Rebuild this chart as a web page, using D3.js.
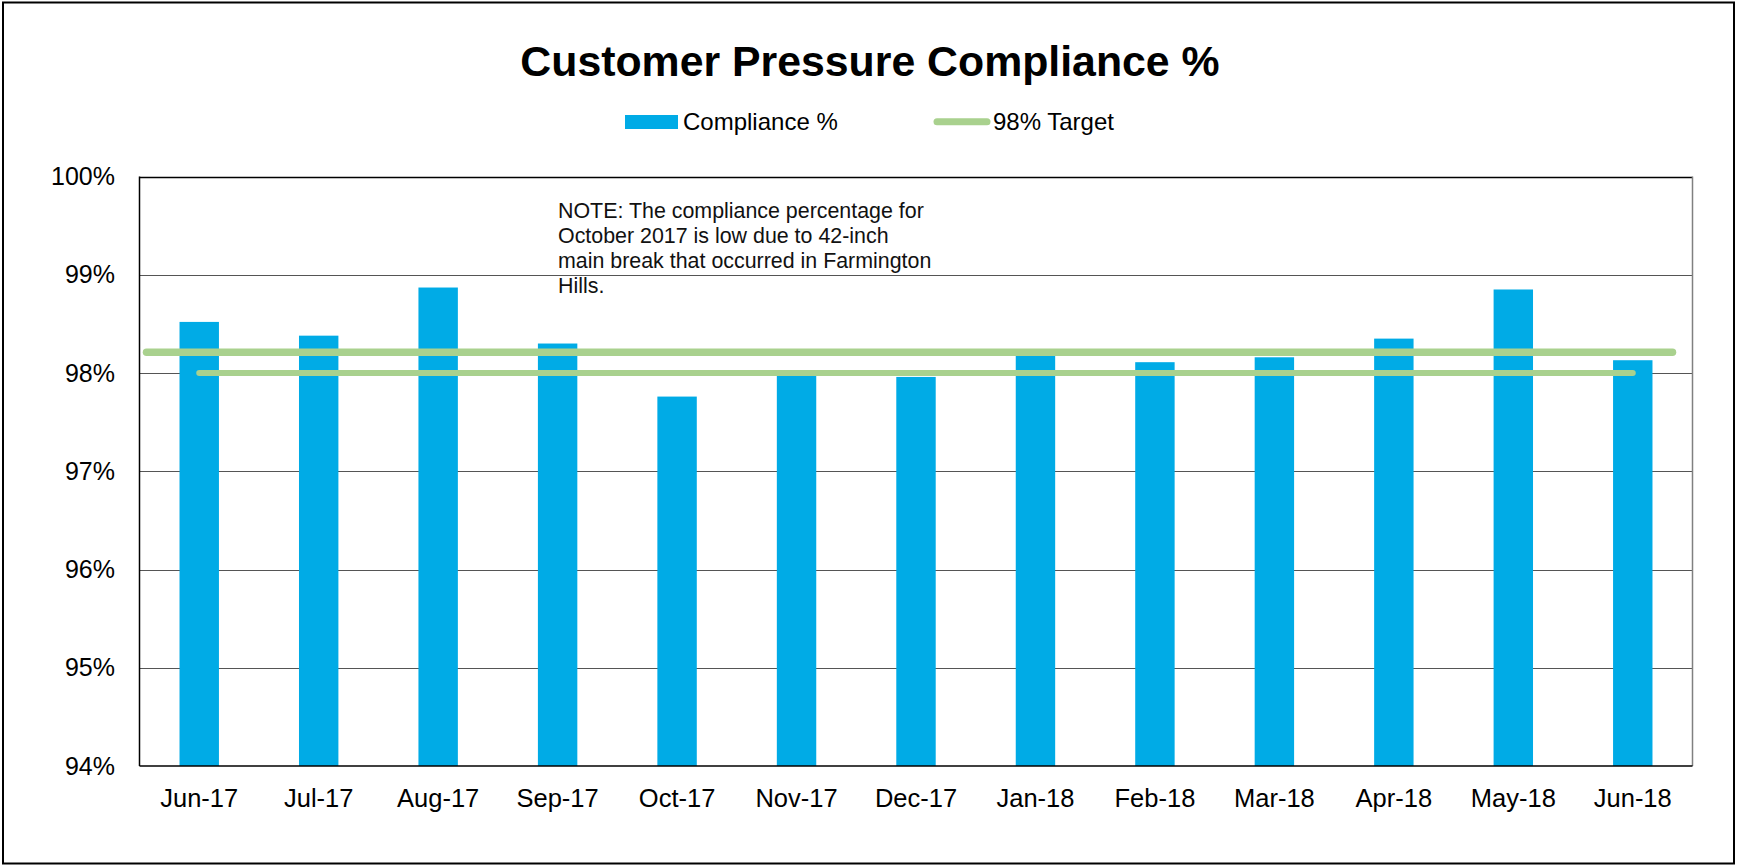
<!DOCTYPE html>
<html>
<head>
<meta charset="utf-8">
<script src="https://cdn.jsdelivr.net/npm/d3@7"></script>
<style>
  html, body { margin: 0; padding: 0; background: #fff; }
  svg { display: block; font-family: "Liberation Sans", Arial, sans-serif; }
</style>
</head>
<body>
<svg id="chart" width="1739" height="865"></svg>
<script>
// ---- data ----
const categories = ["Jun-17","Jul-17","Aug-17","Sep-17","Oct-17","Nov-17","Dec-17","Jan-18","Feb-18","Mar-18","Apr-18","May-18","Jun-18"];
const compliance = [98.52, 98.38, 98.87, 98.30, 97.76, 98.03, 97.96, 98.19, 98.11, 98.16, 98.35, 98.85, 98.13];
const target = [98, 98, 98, 98, 98, 98, 98, 98, 98, 98, 98, 98, 98];
const drawnTargetLine = 98.21;
const yTicks = [94, 95, 96, 97, 98, 99, 100];
const titleText = "Customer Pressure Compliance %";
const legendLabels = ["Compliance %", "98% Target"];
const noteLines = [
  "NOTE: The compliance percentage for",
  "October 2017 is low due to 42-inch",
  "main break that occurred in Farmington",
  "Hills."
];

// ---- layout ----
const W = 1739, H = 865;
const plot = { left: 139.5, right: 1692.5, top: 176.5, bottom: 766 };
const barColor = "#00ABE6";
const lineColor = "#A9D18E";

const svg = d3.select("#chart");

// outer border
svg.append("rect").attr("x", 3).attr("y", 2.5).attr("width", 1731).attr("height", 861)
  .attr("fill", "#fff").attr("stroke", "#000").attr("stroke-width", 2);

const x = d3.scaleBand().domain(categories).range([plot.left, plot.right])
  .paddingInner(0.67).paddingOuter(0.335);
const y = d3.scaleLinear().domain([94, 100]).range([plot.bottom, plot.top]);

// gridlines
svg.append("g").selectAll("line").data(yTicks.filter(d => d > 94)).join("line")
  .attr("x1", plot.left).attr("x2", plot.right)
  .attr("y1", d => Math.round(y(d)) + 0.5).attr("y2", d => Math.round(y(d)) + 0.5)
  .attr("stroke", d => d === 100 ? "#000" : "#555").attr("stroke-width", d => d === 100 ? 1.5 : 1);

// right border of plot
svg.append("line").attr("x1", plot.right).attr("x2", plot.right)
  .attr("y1", plot.top).attr("y2", plot.bottom).attr("stroke", "#808080").attr("stroke-width", 1.5);

// bars
svg.append("g").selectAll("rect").data(compliance).join("rect")
  .attr("x", (d, i) => x(categories[i]))
  .attr("width", x.bandwidth())
  .attr("y", d => y(d))
  .attr("height", d => y(94) - y(d))
  .attr("fill", barColor);

// axes lines
svg.append("line").attr("x1", plot.left).attr("x2", plot.left)
  .attr("y1", plot.top).attr("y2", plot.bottom).attr("stroke", "#000").attr("stroke-width", 1.5);
svg.append("line").attr("x1", plot.left).attr("x2", plot.right)
  .attr("y1", plot.bottom).attr("y2", plot.bottom).attr("stroke", "#000").attr("stroke-width", 1.5);

// drawn target line (upper)
svg.append("line")
  .attr("x1", plot.left + 7).attr("x2", plot.right - 20)
  .attr("y1", y(drawnTargetLine)).attr("y2", y(drawnTargetLine))
  .attr("stroke", lineColor).attr("stroke-width", 7.5).attr("stroke-linecap", "round");

// target series line
const line = d3.line().x((d, i) => x(categories[i]) + x.bandwidth() / 2).y(d => y(d));
svg.append("path").datum(target).attr("d", line)
  .attr("fill", "none").attr("stroke", lineColor).attr("stroke-width", 6).attr("stroke-linecap", "round");

// y axis labels
svg.append("g").selectAll("text").data(yTicks).join("text")
  .attr("x", 115).attr("y", d => y(d) + 8.7)
  .attr("text-anchor", "end").attr("font-size", 25).attr("fill", "#000")
  .text(d => d + "%");

// x axis labels
svg.append("g").selectAll("text").data(categories).join("text")
  .attr("x", d => x(d) + x.bandwidth() / 2).attr("y", 806.5)
  .attr("text-anchor", "middle").attr("font-size", 25.5).attr("fill", "#000")
  .text(d => d);

// title
svg.append("text").attr("x", 870).attr("y", 76).attr("text-anchor", "middle")
  .attr("font-size", 42.8).attr("font-weight", "bold").attr("fill", "#000").text(titleText);

// legend
svg.append("rect").attr("x", 625).attr("y", 115).attr("width", 53).attr("height", 14).attr("fill", barColor);
svg.append("text").attr("x", 683).attr("y", 130).attr("font-size", 24).attr("fill", "#000").text(legendLabels[0]);
svg.append("line").attr("x1", 937).attr("x2", 987).attr("y1", 121.7).attr("y2", 121.7)
  .attr("stroke", lineColor).attr("stroke-width", 7).attr("stroke-linecap", "round");
svg.append("text").attr("x", 993).attr("y", 130).attr("font-size", 24).attr("fill", "#000").text(legendLabels[1]);

// note
svg.append("g").selectAll("text").data(noteLines).join("text")
  .attr("x", 558).attr("y", (d, i) => 218 + i * 25)
  .attr("font-size", 21.4).attr("fill", "#111").text(d => d);
</script>
</body>
</html>
